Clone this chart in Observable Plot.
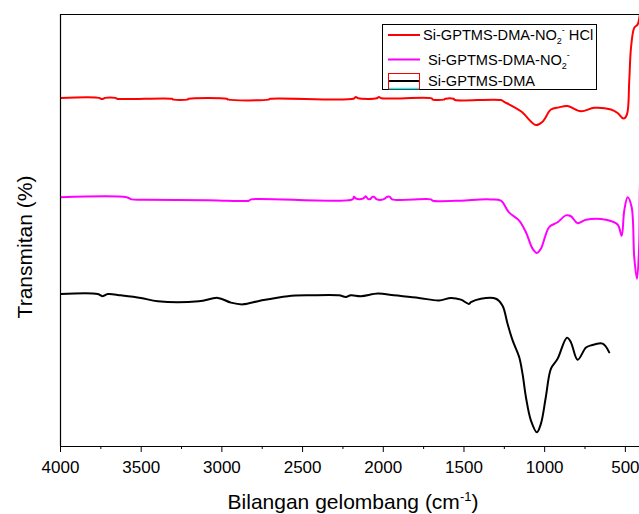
<!DOCTYPE html>
<html><head><meta charset="utf-8">
<script src="https://cdn.jsdelivr.net/npm/d3@7"></script>
<script src="https://cdn.jsdelivr.net/npm/@observablehq/plot@0.6"></script>
<style>body{margin:0;background:#fff}</style>
</head><body>
<script>
// Wavenumber (cm-1) and transmittance (arbitrary, offset)
const redWn = [4000,3760,3750,3735,3725,3660,3650,3310,3300,3215,3205,2970,2960,2712,2700,2185,2170,2155,2040,2027,2010,1700,1693,1625,1615,1565,1555,1271,1251,1147,1054,1013,961,912,858,775,693,589,548,511,490,476,465,445,424,410,400];
const redT  = [80.7,80.7,80.5,80.5,80.7,80.7,80.5,80.5,80.3,80.3,80.5,80.5,80.3,80.3,80.5,80.5,80.9,80.6,80.6,80.9,80.6,80.6,80.3,80.3,80.5,80.5,80.2,80.2,79.8,77.6,74.4,75.2,78.0,78.5,78.8,77.6,78.4,78.0,77.2,75.9,76.9,84.6,92.3,96.9,97.7,100,102];

const magWn = [4000,3590,3560,3484,3087,2970,2833,2820,2190,2182,2170,2125,2108,2095,2080,2068,2058,2040,2000,1975,1960,1945,1705,1693,1520,1400,1330,1271,1221,1158,1116,1075,1048,1023,972,920,868,837,796,744,620,548,523,507,486,461,445,428,414,408,400];
const magT  = [57.7,57.7,57.2,57.1,57.0,56.9,56.9,57.2,57.2,57.8,57.4,57.4,57.9,57.3,57.3,57.8,57.8,57.2,57.2,57.8,57.8,57.2,57.2,56.9,56.9,57.2,57.2,56.9,54.2,52.3,49.6,45.8,44.8,45.8,50.8,51.9,53.5,53.3,51.7,52.5,52.5,51.4,48.8,54.6,57.7,55.4,43.8,38.8,46.9,61.6,63.5];

const blkWn = [4000,3769,3738,3707,3626,3502,3397,3143,3025,2944,2870,2758,2591,2449,2275,2232,2201,2139,2033,1934,1779,1655,1581,1519,1469,1457,1395,1302,1261,1230,1198,1158,1137,1116,1085,1048,1023,993,961,920,862,837,796,744,713,641,600];
const blkT  = [35.3,35.3,34.8,35.3,35.0,34.4,33.6,33.6,34.4,33.3,32.9,33.8,34.8,35.0,35.0,34.6,35.0,34.8,35.4,35.0,34.4,33.8,34.4,34.0,33.0,33.4,34.2,34.2,32.6,28.4,24.5,20.7,16.8,11.4,6.0,3.3,5.3,11.4,18.0,20.3,25.2,24.1,20.1,22.9,23.4,23.8,21.8];

const seriesNames  = ["Si-GPTMS-DMA-NO2- HCl", "Si-GPTMS-DMA-NO2-", "Si-GPTMS-DMA"];
const seriesColors = ["#ff0000", "#ff00ff", "#000000"];
const majorTicks = [4000,3500,3000,2500,2000,1500,1000,500];
const minorTicks = [3750,3250,2750,2250,1750,1250,750];

const series = [
  {name: seriesNames[0], wn: redWn, t: redT, color: seriesColors[0]},
  {name: seriesNames[1], wn: magWn, t: magT, color: seriesColors[1]},
  {name: seriesNames[2], wn: blkWn, t: blkT, color: seriesColors[2]}
];

const font = "'Liberation Sans', Arial, sans-serif";

const chart = Plot.plot({
  width: 639, height: 514,
  marginLeft: 60, marginRight: 0, marginTop: 14, marginBottom: 68,
  style: {fontFamily: font, fontSize: "17px", color: "#000", background: "#fff", overflow: "hidden"},
  x: {domain: [4000, 400], range: [60, 641], label: null},
  y: {domain: [0, 100], axis: null, label: null},
  marks: [
    ...series.map(s => Plot.line(s.wn.map((w, i) => ({wn: w, t: s.t[i]})), {
      x: "wn", y: "t", stroke: s.color, strokeWidth: 2, curve: "catmull-rom", clip: true
    })),
    Plot.ruleX([4000], {stroke: "#000", strokeWidth: 1.2}),
    Plot.ruleY([100], {stroke: "#000", strokeWidth: 1.2}),
    Plot.ruleY([0], {stroke: "#000", strokeWidth: 1.2}),
    Plot.axisX(majorTicks, {tickSize: 6, tickPadding: 8, tickFormat: d => String(d), label: null, stroke: "#000"}),
    Plot.axisX(minorTicks, {tickSize: 3, text: null, label: null, stroke: "#000"})
  ]
});
document.body.appendChild(chart);

const svg = d3.select(chart);

// Axis titles
const xt = svg.append("text").attr("x", 353).attr("y", 509).attr("text-anchor", "middle")
  .attr("font-family", font).attr("font-size", 21).attr("fill", "#000");
xt.append("tspan").text("Bilangan gelombang (cm");
xt.append("tspan").attr("dy", -8).attr("font-size", 13).text("-1");
xt.append("tspan").attr("dy", 8).text(")");

svg.append("text").attr("transform", "translate(32,247) rotate(-90)").attr("text-anchor", "middle")
  .attr("font-family", font).attr("font-size", 21).attr("fill", "#000").text("Transmitan (%)");

// Legend
const lg = svg.append("g").attr("font-family", font).attr("font-size", 14.6).attr("fill", "#000").attr("text-anchor", "start");
lg.append("rect").attr("x", 382.5).attr("y", 24.5).attr("width", 214).attr("height", 65)
  .attr("fill", "#fff").attr("stroke", "#000").attr("stroke-width", 1);
// entry 1
lg.append("line").attr("x1", 388).attr("x2", 420).attr("y1", 35).attr("y2", 35).attr("stroke", seriesColors[0]).attr("stroke-width", 2);
const t1 = lg.append("text").attr("x", 423).attr("y", 39.5).attr("text-anchor", "start");
t1.append("tspan").text("Si-GPTMS-DMA-NO");
t1.append("tspan").attr("dy", 4).attr("font-size", 9).text("2");
t1.append("tspan").attr("dy", -11).attr("font-size", 9).text("-");
t1.append("tspan").attr("dy", 7).text(" HCl");
// entry 2
lg.append("line").attr("x1", 388).attr("x2", 420).attr("y1", 59.5).attr("y2", 59.5).attr("stroke", seriesColors[1]).attr("stroke-width", 2);
const t2 = lg.append("text").attr("x", 428).attr("y", 65).attr("text-anchor", "start");
t2.append("tspan").text("Si-GPTMS-DMA-NO");
t2.append("tspan").attr("dy", 4).attr("font-size", 9).text("2");
t2.append("tspan").attr("dy", -11).attr("font-size", 9).text("-");
// entry 3
lg.append("rect").attr("x", 388.5).attr("y", 73.5).attr("width", 31).attr("height", 15.5)
  .attr("fill", "none").attr("stroke", "#ff0000").attr("stroke-width", 1);
lg.append("line").attr("x1", 389).attr("x2", 419).attr("y1", 81).attr("y2", 81).attr("stroke", seriesColors[2]).attr("stroke-width", 2);
lg.append("line").attr("x1", 389).attr("x2", 419).attr("y1", 88.5).attr("y2", 88.5).attr("stroke", "#00ffff").attr("stroke-width", 1.5);
lg.append("text").attr("x", 428).attr("y", 86).attr("text-anchor", "start").text("Si-GPTMS-DMA");
</script>
</body></html>
